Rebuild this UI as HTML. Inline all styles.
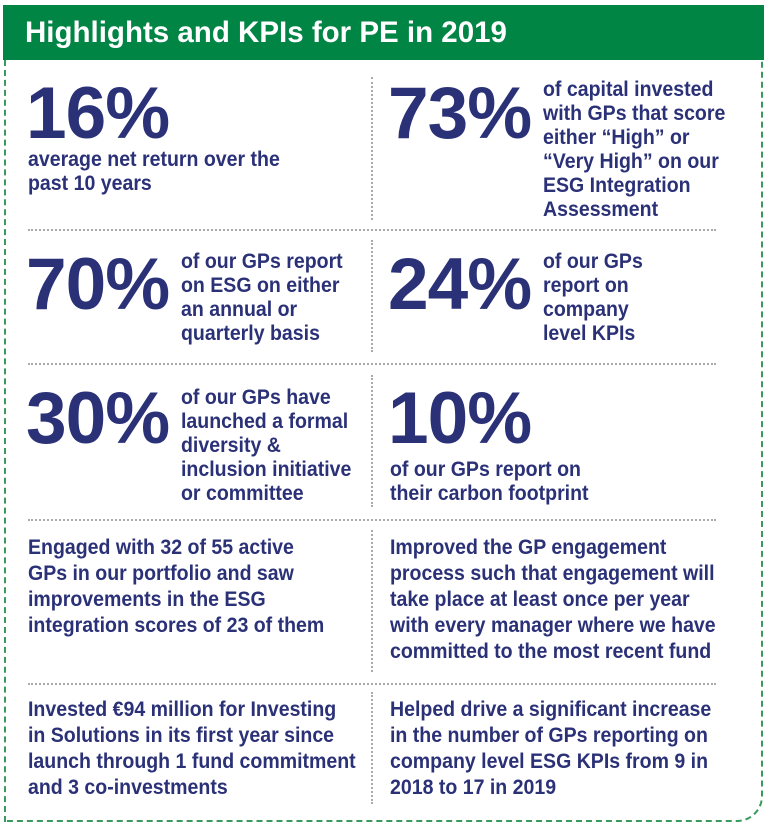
<!DOCTYPE html>
<html><head><meta charset="utf-8"><style>
body{margin:0;width:768px;height:829px;background:#fff;position:relative;overflow:hidden;font-family:"Liberation Sans",sans-serif;color:#2b3177;font-weight:bold}
.hdr{position:absolute;left:3px;top:5px;width:761px;height:55px;background:#008545;color:#fff;font-size:29.5px;line-height:55px;padding-left:22px;box-sizing:border-box}
.box{position:absolute;left:4px;top:60px;width:759px;height:762px;border:2px dashed #3a9a5e;border-top:none;border-bottom-right-radius:26px;box-sizing:border-box}
.big{position:absolute;font-size:73px;line-height:72px;letter-spacing:-1px}
.t,.t2{position:absolute;font-size:21px;line-height:24px;transform:scaleX(.93);transform-origin:left top;white-space:nowrap}
.t2{line-height:26px}
.h{position:absolute;left:28px;width:688px;border-top:2px dotted #aaa;height:0}
.v{position:absolute;left:371px;border-left:2px dotted #aaa;width:0}
</style></head><body>
<div class="hdr">Highlights and KPIs for PE in 2019</div>
<div class="box"></div>
<div class="big" style="left:26px;top:78px">16%</div>
<div class="t" style="left:28px;top:148px">average net return over the<br>past 10 years</div>
<div class="big" style="left:388px;top:78px">73%</div>
<div class="t" style="left:543px;top:78px">of capital invested<br>with GPs that score<br>either “High” or<br>“Very High” on our<br>ESG Integration<br>Assessment</div>
<div class="h" style="top:229px"></div>
<div class="v" style="top:77px;height:143px"></div>
<div class="big" style="left:26px;top:249px">70%</div>
<div class="t" style="left:181px;top:250px">of our GPs report<br>on ESG on either<br>an annual or<br>quarterly basis</div>
<div class="big" style="left:388px;top:249px">24%</div>
<div class="t" style="left:543px;top:250px">of our GPs<br>report on<br>company<br>level KPIs</div>
<div class="v" style="top:240px;height:112px"></div>
<div class="h" style="top:363px"></div>
<div class="big" style="left:26px;top:383px">30%</div>
<div class="t" style="left:181px;top:386px">of our GPs have<br>launched a formal<br>diversity &amp;<br>inclusion initiative<br>or committee</div>
<div class="big" style="left:388px;top:383px">10%</div>
<div class="t" style="left:390px;top:458px">of our GPs report on<br>their carbon footprint</div>
<div class="v" style="top:375px;height:132px"></div>
<div class="h" style="top:519px"></div>
<div class="t2" style="left:28px;top:535px">Engaged with 32 of 55 active<br>GPs in our portfolio and saw<br>improvements in the ESG<br>integration scores of 23 of them</div>
<div class="t2" style="left:390px;top:535px">Improved the GP engagement<br>process such that engagement will<br>take place at least once per year<br>with every manager where we have<br>committed to the most recent fund</div>
<div class="v" style="top:530px;height:142px"></div>
<div class="h" style="top:683px"></div>
<div class="t2" style="left:28px;top:697px">Invested €94 million for Investing<br>in Solutions in its first year since<br>launch through 1 fund commitment<br>and 3 co-investments</div>
<div class="t2" style="left:390px;top:697px">Helped drive a significant increase<br>in the number of GPs reporting on<br>company level ESG KPIs from 9 in<br>2018 to 17 in 2019</div>
<div class="v" style="top:692px;height:112px"></div>
</body></html>
